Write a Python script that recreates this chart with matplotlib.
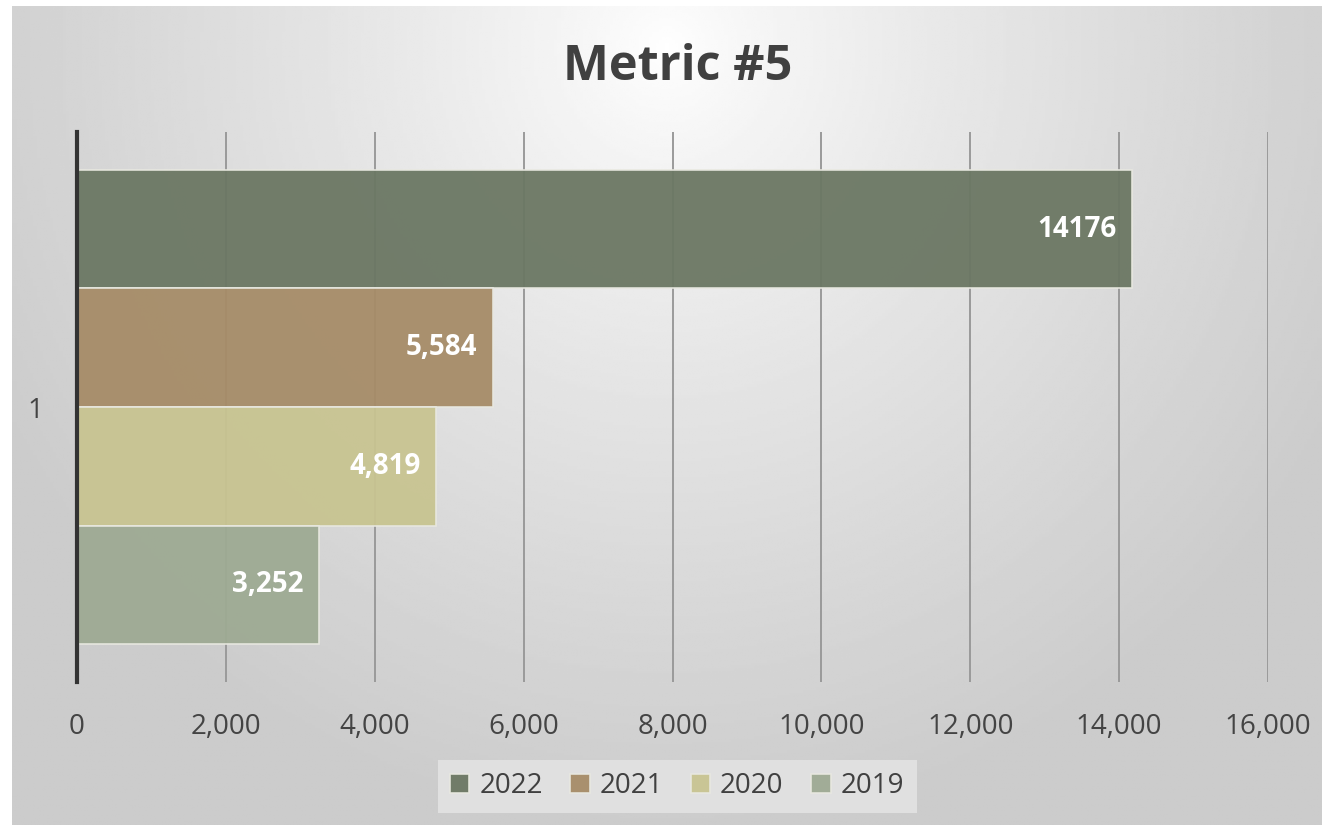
import numpy as np
import matplotlib
matplotlib.use("Agg")
import matplotlib.pyplot as plt

# datos
categorias = ["1"]
series = ["2022", "2021", "2020", "2019"]
valores = [14176, 5584, 4819, 3252]
etiquetas = ["14176", "5,584", "4,819", "3,252"]
colores = ["#6b7763", "#a68c68", "#c8c491", "#9eaa93"]
ticks_x = [0, 2000, 4000, 6000, 8000, 10000, 12000, 14000, 16000]

plt.rcParams['font.family'] = ['Open Sans', 'DejaVu Sans']

fig = plt.figure(figsize=(13.22, 8.25), dpi=100)
fig.patch.set_facecolor("white")

# fondo con degradado radial
bg = fig.add_axes([12 / 1322, 0, 1 - 12 / 1322, 1 - 6 / 825])
gx, gy = np.meshgrid(np.linspace(-1, 1, 400), np.linspace(-1, 1, 300))
r = np.sqrt((gx / 1.15) ** 2 + ((gy + 0.9) / 1.9) ** 2)
r = np.clip(r, 0, 1)
gris = 1.0 - 0.2 * r ** 0.8
bg.imshow(gris, cmap="gray", vmin=0, vmax=1, aspect="auto", extent=[0, 1, 0, 1])
bg.axis("off")

ax = fig.add_axes([77 / 1322, 143 / 825, (1268 - 77) / 1322, 550 / 825])
ax.set_facecolor("none")

alto = 0.2155
offsets = [1.5, 0.5, -0.5, -1.5]
for i, serie in enumerate(series):
    y = 0 + offsets[i] * alto
    ax.barh(y, valores[i], height=alto, color=colores[i], alpha=0.95,
            edgecolor="#e8e8e0", linewidth=1.2, label=serie, zorder=3)
    ax.annotate(etiquetas[i], xy=(valores[i], y), xytext=(-11, 0),
                textcoords="offset points", ha="right", va="center",
                color="white", fontsize=20, fontweight="bold", zorder=4)

ax.set_xlim(0, 16000)
ax.set_ylim(-0.5, 0.5)
ax.set_xticks(ticks_x)
ax.set_xticklabels([f"{t:,}" for t in ticks_x])
ax.set_yticks([0])
ax.set_yticklabels(categorias)
ax.tick_params(axis="x", length=0, pad=22, labelsize=20, labelcolor="#444444")
ax.tick_params(axis="y", length=0, pad=24, labelsize=20, labelcolor="#444444")
ax.grid(axis="x", color="#9a9a9a", linewidth=1.4, zorder=1)
for s in ["top", "right", "bottom"]:
    ax.spines[s].set_visible(False)
ax.spines["left"].set_color("#333333")
ax.spines["left"].set_linewidth(3)
ax.spines["left"].set_zorder(5)

fig.text(678 / 1322, 1 - 68 / 825, "Metric #5", ha="center", va="center",
         fontsize=35, fontweight="bold", color="#404040")

leg = ax.legend(loc="center", bbox_to_anchor=(677 / 1322, 1 - 786 / 825),
                bbox_transform=fig.transFigure, ncol=4, fontsize=20,
                frameon=True, fancybox=False, facecolor="#e0e0e0",
                edgecolor="none", framealpha=1, handlelength=0.7,
                handleheight=0.7, handletextpad=0.35, columnspacing=1.0,
                borderpad=0.45)
for t in leg.get_texts():
    t.set_color("#404040")

fig.savefig("out.png", dpi=100)
